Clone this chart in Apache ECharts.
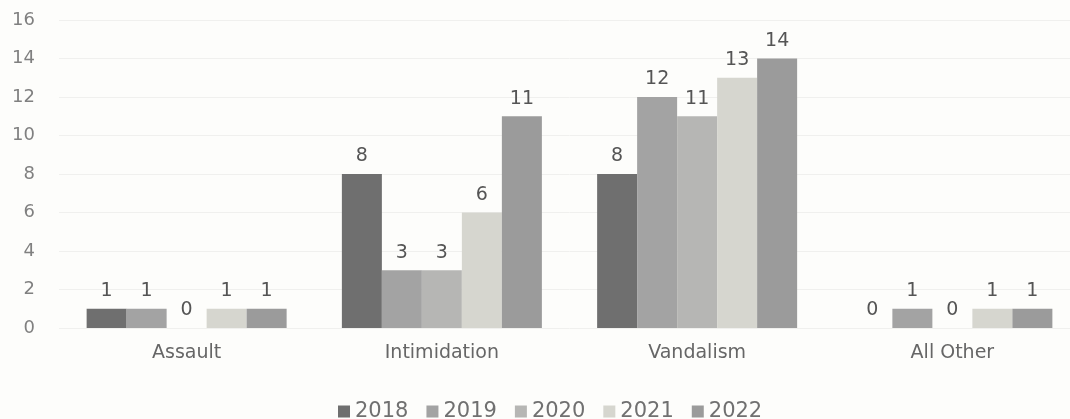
<!DOCTYPE html>
<html>
<head>
<meta charset="utf-8">
<script src="https://cdn.jsdelivr.net/npm/echarts@6/dist/echarts.min.js"></script>
<style>
	html, body { margin: 0; padding: 0; background: #fdfdfb; overflow: hidden; }
	/* the source chart's plot area runs a little past the right edge of the picture */
	#chart { width: 1081px; height: 419px; }
</style>
</head>
<body>
<div id="chart"></div>
<script>
	var categories = ['Assault', 'Intimidation', 'Vandalism', 'All Other'];
	var years = ['2018', '2019', '2020', '2021', '2022'];
	var data2018 = [1, 8, 8, 0];
	var data2019 = [1, 3, 12, 1];
	var data2020 = [0, 3, 11, 0];
	var data2021 = [1, 6, 13, 1];
	var data2022 = [1, 11, 14, 1];
	var yTicks = [0, 2, 4, 6, 8, 10, 12, 14, 16];

	var valuesArr = [data2018, data2019, data2020, data2021, data2022];
	var colorArr = ['#6f6f6f', '#a3a3a3', '#b6b6b4', '#d6d6cf', '#9b9b9b'];
	var fontName = 'DejaVu Sans';

	var seriesArr = [];
	for (let i = 0; i < years.length; i++) {
		seriesArr.push({
			name: years[i],
			type: 'bar',
			data: valuesArr[i],
			barWidth: 40,
			barGap: '0%',
			itemStyle: { color: colorArr[i] },
			label: {
				show: true,
				position: 'top',
				distance: 8,
				color: '#555',
				fontFamily: fontName,
				fontSize: 19
			}
		});
	}

	var chart = echarts.init(document.getElementById('chart'));
	chart.setOption({
		backgroundColor: '#fdfdfb',
		animation: false,
		grid: { left: 59, top: 20, right: 1, bottom: 91 },
		legend: {
			data: years,
			left: 333,
			top: 396,
			icon: 'rect',
			itemWidth: 12,
			itemHeight: 12,
			itemGap: 18,
			textStyle: { color: '#707070', fontFamily: fontName, fontSize: 21 }
		},
		xAxis: {
			type: 'category',
			data: categories,
			axisLine: { show: false },
			axisTick: { show: false },
			axisLabel: { color: '#666', fontFamily: fontName, fontSize: 19, margin: 16 }
		},
		yAxis: {
			type: 'value',
			min: yTicks[0],
			max: yTicks[yTicks.length - 1],
			interval: 2,
			axisLine: { show: false },
			axisTick: { show: false },
			axisLabel: { color: '#808080', fontFamily: fontName, fontSize: 18, margin: 24 },
			splitLine: { lineStyle: { color: '#f0f0ee', width: 1 } }
		},
		series: seriesArr
	});
</script>
</body>
</html>
